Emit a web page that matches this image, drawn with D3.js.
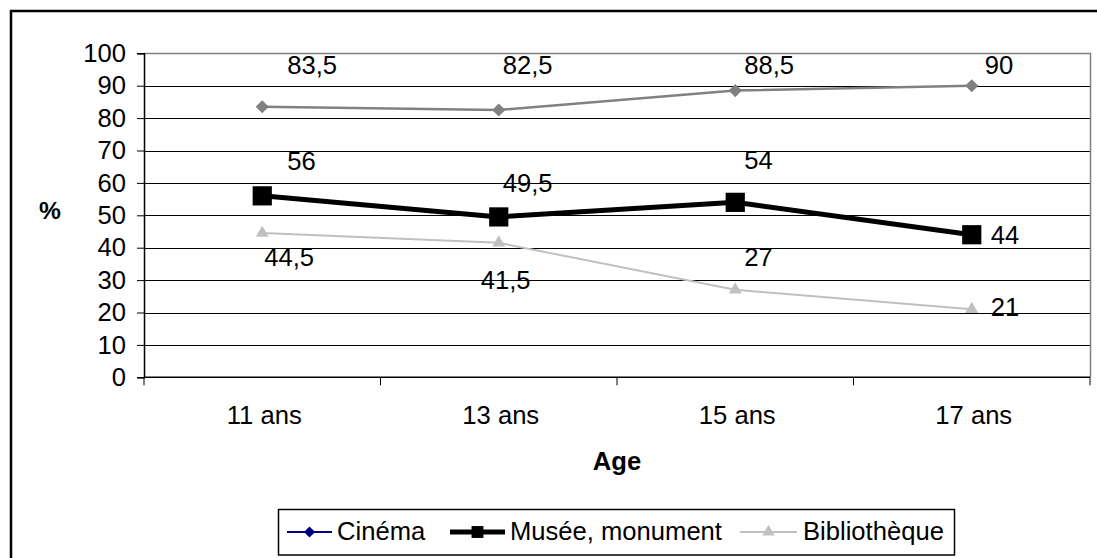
<!DOCTYPE html>
<html>
<head>
<meta charset="utf-8">
<script src="https://cdn.jsdelivr.net/npm/d3@7"></script>
<style>
  html, body { margin: 0; padding: 0; background: #fff; }
  svg { display: block; font-family: "Liberation Sans", Arial, sans-serif; }
</style>
</head>
<body>
<svg id="chart" width="1097" height="558"></svg>
<script>
// Age groups on the x axis
const ages = ["11 ans", "13 ans", "15 ans", "17 ans"];

// Share of young people (%) per activity
const cinema = [83.5, 82.5, 88.5, 90];
const musee = [56, 49.5, 54, 44];
const bibliotheque = [44.5, 41.5, 27, 21];

const yTicks = [0, 10, 20, 30, 40, 50, 60, 70, 80, 90, 100];

const seriesNames = ["Cinéma", "Musée, monument", "Bibliothèque"];

// Hand-placed offsets (px) of each value label from its point
const labelNudge = [
  [[25, -33], [4, -36], [9, -17], [13, -12]],
  [[25, -26], [4, -25], [9, -33], [19, 9]],
  [[2, 33], [-18, 46], [9, -24], [19, 7]]
];

const svg = d3.select("#chart");
const plot = { left: 144, right: 1090, top: 53.3, bottom: 377.3 };
const FS = 25.6;

const x = d3.scaleBand().domain(ages).range([plot.left, plot.right]);
const y = d3.scaleLinear().domain([0, 100]).range([plot.bottom, plot.top]);
const cx = d => x(d) + x.bandwidth() / 2;

const fr = d3.formatLocale({ decimal: ",", thousands: " ", grouping: [3], currency: ["", ""] });
const fmt = fr.format("~g");

// Outer chart frame (only the top and left edges fall inside the view)
svg.append("rect")
  .attr("x", 11).attr("y", 11).attr("width", 1200).attr("height", 700)
  .attr("fill", "none").attr("stroke", "#000").attr("stroke-width", 2.5);

// Horizontal gridlines
svg.append("g").selectAll("line")
  .data(yTicks.filter(t => t > 0 && t < 100))
  .join("line")
  .attr("x1", plot.left).attr("x2", plot.right)
  .attr("y1", d => Math.round(y(d)) + 0.5).attr("y2", d => Math.round(y(d)) + 0.5)
  .attr("stroke", "#000").attr("stroke-width", 1);

// Plot area border (top and right edges in grey)
svg.append("path")
  .attr("d", `M${plot.left},${Math.round(plot.top) + 0.5}H${plot.right + 0.5}V${plot.bottom}`)
  .attr("fill", "none").attr("stroke", "#808080").attr("stroke-width", 1.5);

// Y axis
const yAxis = d3.axisLeft(y).tickValues(yTicks).tickSize(7).tickPadding(11).tickFormat(d3.format("d"));
const gy = svg.append("g").attr("transform", `translate(${plot.left},0)`).call(yAxis);
gy.select(".domain").attr("stroke", "#000").attr("stroke-width", 1.5);
gy.selectAll(".tick line").attr("stroke", "#000");
gy.selectAll(".tick text").attr("font-size", FS).attr("fill", "#000")
  .attr("font-family", "Liberation Sans, Arial, sans-serif");

// X axis: ticks sit on the category boundaries
const gx = svg.append("g").attr("transform", `translate(0,${plot.bottom})`);
gx.append("line").attr("x1", plot.left).attr("x2", plot.right)
  .attr("stroke", "#000").attr("stroke-width", 1.5);
const bounds = ages.map(a => x(a)).concat([plot.right]);
gx.selectAll("line.tk").data(bounds).join("line").attr("class", "tk")
  .attr("x1", d => d).attr("x2", d => d).attr("y1", 0).attr("y2", 8)
  .attr("stroke", "#000").attr("stroke-width", 1);
gx.selectAll("text").data(ages).join("text")
  .attr("x", d => cx(d) + 2).attr("y", 424 - plot.bottom)
  .attr("text-anchor", "middle").attr("font-size", FS).text(d => d);

// Axis titles
svg.append("text").attr("x", 50).attr("y", 219).attr("text-anchor", "middle")
  .attr("font-size", FS - 1).attr("font-weight", "bold").text("%");
svg.append("text").attr("x", (plot.left + plot.right) / 2).attr("y", 470).attr("text-anchor", "middle")
  .attr("font-size", FS).attr("font-weight", "bold").text("Age");

// Series
const line = d3.line().x((d, i) => cx(ages[i])).y(d => y(d));
const symDiamond = d3.symbol().type(d3.symbolDiamond2).size(110);
const symSquare = d3.symbol().type(d3.symbolSquare2).size(470);
const symTri = d3.symbol().type(d3.symbolTriangle2).size(120);

const series = [
  { name: seriesNames[0], values: cinema, color: "#808080", width: 2.5, sym: symDiamond, legColor: "#000080" },
  { name: seriesNames[1], values: musee, color: "#000000", width: 5, sym: symSquare, legColor: "#000000" },
  { name: seriesNames[2], values: bibliotheque, color: "#c0c0c0", width: 2, sym: symTri, legColor: "#c0c0c0" }
];

series.forEach(s => {
  const g = svg.append("g");
  g.append("path").attr("d", line(s.values))
    .attr("fill", "none").attr("stroke", s.color).attr("stroke-width", s.width)
    .attr("stroke-linejoin", "round");
  g.selectAll("path.m").data(s.values).join("path").attr("class", "m")
    .attr("d", s.sym)
    .attr("transform", (d, i) => `translate(${cx(ages[i])},${y(d)})`)
    .attr("fill", s.color);
});

// Value labels
series.forEach((s, si) => {
  svg.append("g").selectAll("text").data(s.values).join("text")
    .attr("x", (d, i) => cx(ages[i]) + labelNudge[si][i][0])
    .attr("y", (d, i) => y(d) + labelNudge[si][i][1])
    .attr("font-size", FS).attr("fill", "#000")
    .text(d => fmt(d));
});

// Legend
const leg = svg.append("g");
leg.append("rect").attr("x", 278.5).attr("y", 509.5).attr("width", 676).attr("height", 45.5)
  .attr("fill", "#fff").attr("stroke", "#000").attr("stroke-width", 1.5);
const legItems = [
  { x0: 287, x1: 332, tx: 337, sym: d3.symbol().type(d3.symbolDiamond2).size(80), w: 2 },
  { x0: 450, x1: 505, tx: 510, sym: d3.symbol().type(d3.symbolSquare2).size(180), w: 5 },
  { x0: 740, x1: 797, tx: 803, sym: d3.symbol().type(d3.symbolTriangle2).size(110), w: 2 }
];
const legY = 532;
series.forEach((s, i) => {
  const it = legItems[i];
  leg.append("line").attr("x1", it.x0).attr("x2", it.x1).attr("y1", legY).attr("y2", legY)
    .attr("stroke", s.legColor).attr("stroke-width", it.w);
  leg.append("path").attr("d", it.sym)
    .attr("transform", `translate(${(it.x0 + it.x1) / 2},${legY})`).attr("fill", s.legColor);
  leg.append("text").attr("x", it.tx).attr("y", 540).attr("font-size", FS).text(s.name);
});
</script>
</body>
</html>
